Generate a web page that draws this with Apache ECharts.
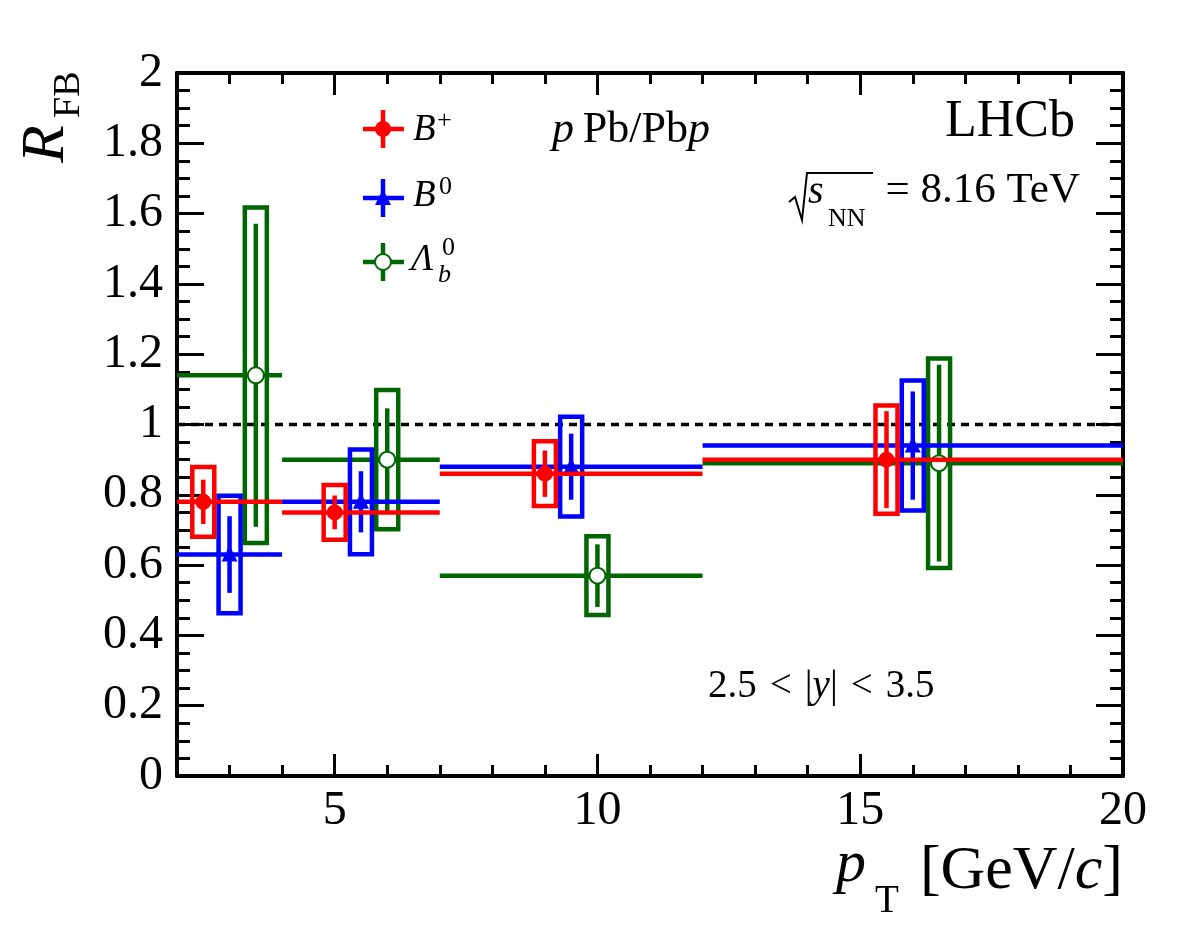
<!DOCTYPE html>
<html>
<head>
<meta charset="utf-8">
<title>R_FB vs pT</title>
<script src="https://cdn.jsdelivr.net/npm/echarts@6/dist/echarts.min.js"></script>
<style>
html, body { margin: 0; padding: 0; background: #fff; }
#chart { width: 1182px; height: 936px; }
</style>
</head>
<body>
<div id="chart"></div>
<script>
// pT bins [GeV/c]
var binLo = [2, 4, 7, 12];
var binHi = [4, 7, 12, 20];

// B+  (point position, R_FB, stat error, syst error)
var bpX = [2.5, 5.0, 9.0, 15.5];
var bpR = [0.78, 0.75, 0.86, 0.90];
var bpStat = [0.063, 0.048, 0.066, 0.138];
var bpSyst = [0.099, 0.078, 0.092, 0.154];

// B0
var b0X = [3.0, 5.5, 9.5, 16.0];
var b0R = [0.63, 0.78, 0.88, 0.94];
var b0Stat = [0.109, 0.087, 0.094, 0.154];
var b0Syst = [0.167, 0.149, 0.142, 0.185];

// Lambda_b0
var lbX = [3.5, 6.0, 10.0, 16.5];
var lbR = [1.14, 0.90, 0.57, 0.89];
var lbStat = [0.431, 0.146, 0.089, 0.280];
var lbSyst = [0.477, 0.198, 0.112, 0.298];

// axes
var xMin = 2, xMax = 20;
var yMin = 0, yMax = 2;
var xMajor = [5, 10, 15, 20];
var unity = 1;

var serif = 'Liberation Serif';
var RED = '#ff0000', BLUE = '#0000ff', GREEN = '#006600';
var LW = 4.5;

function rows(xs, rs, st, sy) {
	var out = [];
	for (var i = 0; i < xs.length; i++) {
		out.push([xs[i], rs[i], st[i], sy[i], binLo[i], binHi[i]]);
	}
	return out;
}

function dotFull(c, color) {
	return { type: 'circle', shape: { cx: c[0], cy: c[1], r: 8 }, style: { fill: color } };
}
function dotTri(c, color) {
	return { type: 'polygon', shape: { points: [[c[0], c[1] - 9], [c[0] - 8, c[1] + 7], [c[0] + 8, c[1] + 7]] }, style: { fill: color } };
}
function dotOpen(c, color) {
	return { type: 'circle', shape: { cx: c[0], cy: c[1], r: 8 }, style: { fill: '#fff', stroke: color, lineWidth: 2 } };
}

// horizontal bin line + syst box + stat bar + marker
function makeRender(color, marker) {
	return function (params, api) {
		var x = api.value(0), y = api.value(1), st = api.value(2), sy = api.value(3);
		var lo = api.coord([api.value(4), y]);
		var hi = api.coord([api.value(5), y]);
		var c = api.coord([x, y]);
		var sTop = api.coord([x, y + st]), sBot = api.coord([x, y - st]);
		var bTop = api.coord([x, y + sy]), bBot = api.coord([x, y - sy]);
		var hw = 11;
		return {
			type: 'group',
			children: [
				{ type: 'line', shape: { x1: lo[0], y1: lo[1], x2: hi[0], y2: hi[1] }, style: { stroke: color, lineWidth: LW } },
				{ type: 'rect', shape: { x: c[0] - hw, y: bTop[1], width: 2 * hw, height: bBot[1] - bTop[1] }, style: { stroke: color, fill: 'none', lineWidth: LW } },
				{ type: 'line', shape: { x1: c[0], y1: sTop[1], x2: c[0], y2: sBot[1] }, style: { stroke: color, lineWidth: LW } },
				marker(c, color)
			]
		};
	};
}

// text placed by its baseline
function txt(str, x, base, fs, extra) {
	var style = { text: str, fontFamily: serif, fontSize: fs, fill: '#000', align: 'left', verticalAlign: 'middle' };
	for (var k in (extra || {})) style[k] = extra[k];
	return { type: 'text', x: x, y: base - 0.34 * fs, style: style, z: 100 };
}

function legendMark(cy, color, marker) {
	var cx = 383;
	return {
		type: 'group', z: 100,
		children: [
			{ type: 'line', shape: { x1: cx - 20, y1: cy, x2: cx + 21, y2: cy }, style: { stroke: color, lineWidth: LW } },
			{ type: 'line', shape: { x1: cx, y1: cy - 19, x2: cx, y2: cy + 19 }, style: { stroke: color, lineWidth: LW } },
			marker([cx, cy], color)
		]
	};
}

var tickStyle = { color: '#000', width: 3 };
var lineStyle = { color: '#000', width: 4 };
var hair = '\u200A';

var myChart = echarts.init(document.getElementById('chart'));
var option = {
	animation: false,
	backgroundColor: '#fff',
	grid: { left: 177, top: 73, right: 59, bottom: 160, containLabel: false },
	xAxis: [
		{
			type: 'value', min: xMin, max: xMax, interval: 1, position: 'bottom',
			axisLine: { lineStyle: lineStyle },
			axisTick: { inside: true, length: 11, lineStyle: tickStyle },
			axisLabel: { show: false }, splitLine: { show: false }
		},
		{
			type: 'value', min: xMin, max: xMax, position: 'bottom',
			axisLine: { show: false },
			axisTick: { inside: true, length: 22, customValues: xMajor, lineStyle: tickStyle },
			axisLabel: { customValues: xMajor, margin: 11, fontFamily: serif, fontSize: 48, color: '#000' },
			splitLine: { show: false }
		},
		{
			type: 'value', min: xMin, max: xMax, interval: 1, position: 'top',
			axisLine: { lineStyle: lineStyle },
			axisTick: { inside: true, length: 11, lineStyle: tickStyle },
			axisLabel: { show: false }, splitLine: { show: false }
		},
		{
			type: 'value', min: xMin, max: xMax, position: 'top',
			axisLine: { show: false },
			axisTick: { inside: true, length: 22, customValues: xMajor, lineStyle: tickStyle },
			axisLabel: { show: false }, splitLine: { show: false }
		}
	],
	yAxis: [
		{
			type: 'value', min: yMin, max: yMax, interval: 0.2, position: 'left',
			axisLine: { lineStyle: lineStyle },
			axisTick: { inside: true, length: 27, lineStyle: tickStyle },
			minorTick: { show: true, splitNumber: 4, length: 13, lineStyle: tickStyle },
			axisLabel: {
				margin: 14, fontFamily: serif, fontSize: 48, color: '#000',
				formatter: function (v) { return String(Math.round(v * 10) / 10); }
			},
			splitLine: { show: false }, minorSplitLine: { show: false }
		},
		{
			type: 'value', min: yMin, max: yMax, interval: 0.2, position: 'right',
			axisLine: { lineStyle: lineStyle },
			axisTick: { inside: true, length: 27, lineStyle: tickStyle },
			minorTick: { show: true, splitNumber: 4, length: 13, lineStyle: tickStyle },
			axisLabel: { show: false },
			splitLine: { show: false }, minorSplitLine: { show: false }
		}
	],
	series: [
		{
			name: 'unity', type: 'line', xAxisIndex: 0, yAxisIndex: 0, symbol: 'none', silent: true,
			data: [[xMin, unity], [xMax, unity]],
			lineStyle: { color: '#000', width: 3.5, type: [8, 6] }, z: 1
		},
		{
			name: 'Lambda_b0', type: 'custom', xAxisIndex: 0, yAxisIndex: 0,
			data: rows(lbX, lbR, lbStat, lbSyst), renderItem: makeRender(GREEN, dotOpen), z: 2
		},
		{
			name: 'B0', type: 'custom', xAxisIndex: 0, yAxisIndex: 0,
			data: rows(b0X, b0R, b0Stat, b0Syst), renderItem: makeRender(BLUE, dotTri), z: 3
		},
		{
			name: 'B+', type: 'custom', xAxisIndex: 0, yAxisIndex: 0,
			data: rows(bpX, bpR, bpStat, bpSyst), renderItem: makeRender(RED, dotFull), z: 4
		}
	],
	graphic: {
		elements: [
			// legend
			legendMark(129, RED, dotFull),
			legendMark(198, BLUE, dotTri),
			legendMark(262, GREEN, dotOpen),
			txt('B', 413, 143, 37, { fontStyle: 'italic' }),
			txt('+', 437, 130, 26),
			txt('B', 413, 209, 37, { fontStyle: 'italic' }),
			txt('0', 439, 196, 26),
			txt('\u039B', 411, 273, 37, { fontStyle: 'italic' }),
			txt('b', 438, 284, 26, { fontStyle: 'italic' }),
			txt('0', 442, 257, 26),
			// labels
			txt('{i|p}\u2009Pb/Pb{i|p}', 552, 145, 44, { rich: { i: { fontStyle: 'italic', fontFamily: serif, fontSize: 44 } } }),
			txt('LHCb', 1075, 140, 52, { align: 'right' }),
			{
				type: 'polyline', z: 100,
				shape: { points: [[789, 202], [795, 197], [802, 220], [807, 173], [873, 173]] },
				style: { stroke: '#000', lineWidth: 2, fill: 'none' }
			},
			txt('s', 808, 206, 40, { fontStyle: 'italic' }),
			txt('NN', 828, 228, 26),
			txt('= 8.16 TeV', 1080, 205, 43, { align: 'right' }),
			txt('2.5' + hair + ' < ' + hair + '|{i|y}|' + hair + ' < ' + hair + '3.5', 708, 700, 39,
				{ rich: { i: { fontStyle: 'italic', fontFamily: serif, fontSize: 39 } } }),
			// axis titles
			txt('p', 836, 886, 60, { fontStyle: 'italic' }),
			txt('T', 875, 915, 39),
			txt('[GeV/{i|c}]', 1123, 893, 62, { align: 'right', rich: { i: { fontStyle: 'italic', fontFamily: serif, fontSize: 62 } } }),
			{
				type: 'text', x: 47, y: 163, rotation: Math.PI / 2, z: 100,
				style: { text: 'R', fontFamily: serif, fontSize: 62, fontStyle: 'italic', fill: '#000', align: 'left', verticalAlign: 'middle' }
			},
			{
				type: 'text', x: 69, y: 118, rotation: Math.PI / 2, z: 100,
				style: { text: 'FB', fontFamily: serif, fontSize: 38, fill: '#000', align: 'left', verticalAlign: 'middle' }
			}
		]
	}
};
myChart.setOption(option);
</script>
</body>
</html>
